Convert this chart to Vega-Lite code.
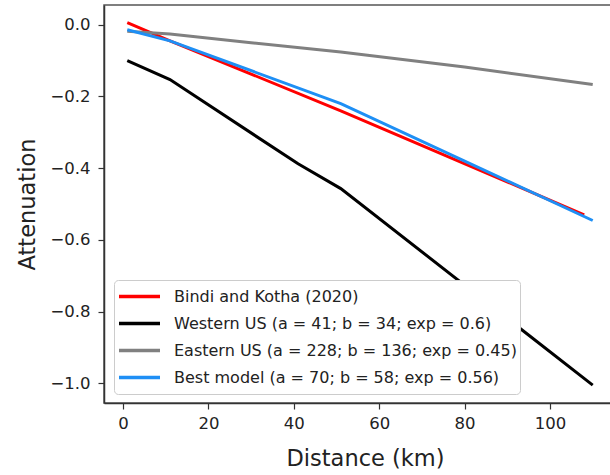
{
  "$schema": "https://vega.github.io/schema/vega-lite/v6.json",
  "autosize": "none",
  "width": 512,
  "height": 398,
  "padding": {"left": 104, "top": 5, "right": 0, "bottom": 72},
  "background": "white",
  "config": {
    "font": "DejaVu Sans",
    "view": {"stroke": "#555", "strokeWidth": 1.5},
    "axis": {
      "grid": false,
      "domainColor": "#333",
      "domainWidth": 1.5,
      "tickColor": "#333",
      "tickWidth": 1.2,
      "tickSize": 6,
      "labelFont": "DejaVu Sans",
      "labelFontSize": 16.5,
      "labelColor": "#222",
      "titleFont": "DejaVu Sans",
      "titleFontSize": 22.5,
      "titleFontWeight": "normal",
      "titleColor": "#222"
    }
  },
  "data": {
    "values": [
      {"series": "Bindi and Kotha (2020)", "distance": 1, "attenuation": 0.006},
      {"series": "Bindi and Kotha (2020)", "distance": 11, "attenuation": -0.045},
      {"series": "Bindi and Kotha (2020)", "distance": 51, "attenuation": -0.24},
      {"series": "Bindi and Kotha (2020)", "distance": 108, "attenuation": -0.53},
      {"series": "Western US (a = 41; b = 34; exp = 0.6)", "distance": 1, "attenuation": -0.1},
      {"series": "Western US (a = 41; b = 34; exp = 0.6)", "distance": 11, "attenuation": -0.153},
      {"series": "Western US (a = 41; b = 34; exp = 0.6)", "distance": 41, "attenuation": -0.388},
      {"series": "Western US (a = 41; b = 34; exp = 0.6)", "distance": 51, "attenuation": -0.457},
      {"series": "Western US (a = 41; b = 34; exp = 0.6)", "distance": 110, "attenuation": -1.005},
      {"series": "Eastern US (a = 228; b = 136; exp = 0.45)", "distance": 1, "attenuation": -0.018},
      {"series": "Eastern US (a = 228; b = 136; exp = 0.45)", "distance": 11, "attenuation": -0.026},
      {"series": "Eastern US (a = 228; b = 136; exp = 0.45)", "distance": 30, "attenuation": -0.05},
      {"series": "Eastern US (a = 228; b = 136; exp = 0.45)", "distance": 51, "attenuation": -0.076},
      {"series": "Eastern US (a = 228; b = 136; exp = 0.45)", "distance": 80, "attenuation": -0.118},
      {"series": "Eastern US (a = 228; b = 136; exp = 0.45)", "distance": 110, "attenuation": -0.167},
      {"series": "Best model (a = 70; b = 58; exp = 0.56)", "distance": 1, "attenuation": -0.014},
      {"series": "Best model (a = 70; b = 58; exp = 0.56)", "distance": 11, "attenuation": -0.045},
      {"series": "Best model (a = 70; b = 58; exp = 0.56)", "distance": 51, "attenuation": -0.22},
      {"series": "Best model (a = 70; b = 58; exp = 0.56)", "distance": 110, "attenuation": -0.546}
    ]
  },
  "mark": {"type": "line", "strokeWidth": 3, "clip": true},
  "encoding": {
    "x": {
      "field": "distance",
      "type": "quantitative",
      "title": "Distance (km)",
      "scale": {"domain": [-4.45, 115.45], "nice": false, "zero": false},
      "axis": {"values": [0, 20, 40, 60, 80, 100], "labelPadding": 6, "titlePadding": 16, "titleX": 261}
    },
    "y": {
      "field": "attenuation",
      "type": "quantitative",
      "title": "Attenuation",
      "scale": {"domain": [-1.055, 0.055], "nice": false, "zero": false},
      "axis": {"values": [-1, -0.8, -0.6, -0.4, -0.2, 0], "format": ".1f", "labelPadding": 8, "titlePadding": 10}
    },
    "color": {
      "field": "series",
      "type": "nominal",
      "scale": {
        "domain": [
          "Bindi and Kotha (2020)",
          "Western US (a = 41; b = 34; exp = 0.6)",
          "Eastern US (a = 228; b = 136; exp = 0.45)",
          "Best model (a = 70; b = 58; exp = 0.56)"
        ],
        "range": ["#ff0000", "#000000", "#808080", "#1e8ff5"]
      },
      "legend": {
        "title": null,
        "orient": "none",
        "legendX": 10,
        "legendY": 275,
        "symbolType": "stroke",
        "symbolSize": 1681,
        "symbolStrokeWidth": 3.5,
        "labelFont": "DejaVu Sans",
        "labelFontSize": 16,
        "labelColor": "#222",
        "labelOffset": 12,
        "labelLimit": 420,
        "clipHeight": 27,
        "rowPadding": 0,
        "padding": 3,
        "strokeColor": "#ccc",
        "fillColor": "white",
        "cornerRadius": 4
      }
    }
  }
}
